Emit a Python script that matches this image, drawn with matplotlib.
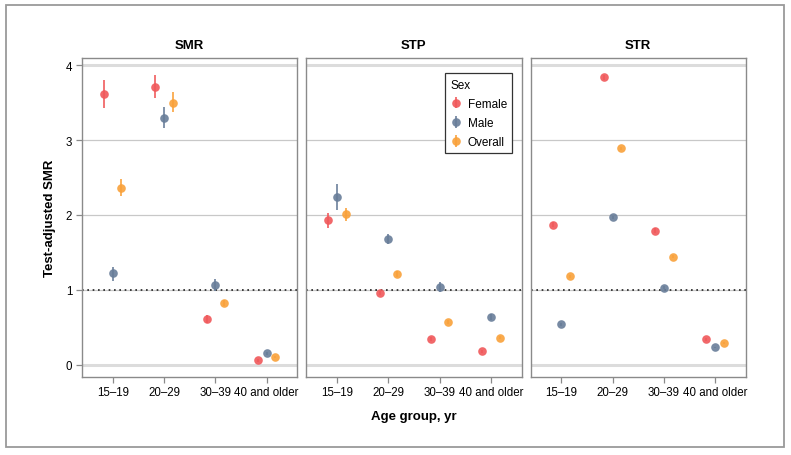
import matplotlib
matplotlib.use("Agg")
import matplotlib.pyplot as plt
from matplotlib.patches import Rectangle

plt.rcParams['font.family'] = ['Liberation Sans', 'DejaVu Sans']

age_groups = ['15\u201319', '20\u201329', '30\u201339', '40 and older']
panels = ['SMR', 'STP', 'STR']
sexes = ['Female', 'Male', 'Overall']
colors = {'Female': '#f0585a', 'Male': '#687d99', 'Overall': '#f9a13a'}

# point estimates per panel and sex (one value per age group)
smr_female = [3.62, 3.71, 0.61, 0.06]
smr_male = [1.22, 3.30, 1.07, 0.15]
smr_overall = [2.36, 3.50, 0.82, 0.10]
stp_female = [1.93, 0.96, 0.34, 0.18]
stp_male = [2.24, 1.68, 1.04, 0.64]
stp_overall = [2.01, 1.21, 0.57, 0.36]
str_female = [1.87, 3.84, 1.79, 0.34]
str_male = [0.54, 1.97, 1.03, 0.23]
str_overall = [1.18, 2.89, 1.44, 0.29]

# 95% CI lower / upper
smr_female_lo = [3.43, 3.56, 0.56, 0.04]
smr_female_hi = [3.81, 3.87, 0.66, 0.08]
smr_male_lo = [1.12, 3.16, 0.99, 0.13]
smr_male_hi = [1.31, 3.44, 1.15, 0.17]
smr_overall_lo = [2.25, 3.37, 0.78, 0.09]
smr_overall_hi = [2.48, 3.64, 0.87, 0.11]
stp_female_lo = [1.83, 0.93, 0.31, 0.16]
stp_female_hi = [2.03, 0.99, 0.37, 0.20]
stp_male_lo = [2.06, 1.61, 0.97, 0.60]
stp_male_hi = [2.42, 1.74, 1.10, 0.68]
stp_overall_lo = [1.92, 1.17, 0.54, 0.34]
stp_overall_hi = [2.09, 1.25, 0.60, 0.38]
str_female_lo = [1.84, 3.81, 1.76, 0.32]
str_female_hi = [1.90, 3.87, 1.82, 0.36]
str_male_lo = [0.52, 1.95, 1.01, 0.22]
str_male_hi = [0.56, 1.99, 1.05, 0.24]
str_overall_lo = [1.16, 2.87, 1.42, 0.28]
str_overall_hi = [1.20, 2.91, 1.46, 0.30]

data = {
    'SMR': {'Female': (smr_female, smr_female_lo, smr_female_hi),
            'Male': (smr_male, smr_male_lo, smr_male_hi),
            'Overall': (smr_overall, smr_overall_lo, smr_overall_hi)},
    'STP': {'Female': (stp_female, stp_female_lo, stp_female_hi),
            'Male': (stp_male, stp_male_lo, stp_male_hi),
            'Overall': (stp_overall, stp_overall_lo, stp_overall_hi)},
    'STR': {'Female': (str_female, str_female_lo, str_female_hi),
            'Male': (str_male, str_male_lo, str_male_hi),
            'Overall': (str_overall, str_overall_lo, str_overall_hi)},
}
offsets = {'Female': -0.17, 'Male': 0.0, 'Overall': 0.17}

fig = plt.figure(figsize=(7.91, 4.56), dpi=100)
gs = fig.add_gridspec(1, 3, left=0.1037, right=0.943, top=0.871, bottom=0.172, wspace=0.042)
frame_col = '#8a8a8a'

for i, name in enumerate(panels):
    ax = fig.add_subplot(gs[0, i])
    for y in [1, 2, 3]:
        ax.axhline(y, color='#c8c8c8', lw=0.9, zorder=0)
    for y in [0, 4]:
        ax.axhline(y, color='#dcdcdc', lw=2.2, zorder=0)
    # reference line at 1
    ax.axhline(1, color='#222222', lw=1.2, ls=(0, (1, 2.2)), zorder=1)
    for sex in sexes:
        vals, lo, hi = data[name][sex]
        xs = [k + offsets[sex] for k in range(len(age_groups))]
        err = [[v - l for v, l in zip(vals, lo)], [h - v for v, h in zip(vals, hi)]]
        ax.errorbar(xs, vals, yerr=err, fmt='o', color=colors[sex], ms=6.2,
                    elinewidth=1.3, capsize=0, alpha=0.9, mew=0, zorder=3, label=sex)
    ax.set_xlim(-0.6, 3.6)
    ax.set_ylim(-0.16, 4.1)
    ax.set_xticks(range(len(age_groups)))
    ax.set_xticklabels(age_groups, fontsize=8)
    ax.set_yticks([0, 1, 2, 3, 4])
    ax.tick_params(axis='both', color=frame_col, length=4, width=0.9, pad=3, labelsize=8.3)
    if i == 0:
        ax.set_ylabel('Test-adjusted SMR', fontsize=9.5, fontweight='bold', labelpad=7)
    else:
        ax.tick_params(axis='y', left=False, labelleft=False)
    for sp in ax.spines.values():
        sp.set_color(frame_col)
        sp.set_linewidth(1.0)
    ax.set_title(name, fontsize=9.5, fontweight='bold', pad=7)
    if name == 'STP':
        handles, labels = ax.get_legend_handles_labels()
        leg = ax.legend(handles, labels, title='Sex', loc='upper right',
                        bbox_to_anchor=(0.985, 0.97), fontsize=8.5, title_fontsize=8.5,
                        fancybox=False, framealpha=1, edgecolor='#333333',
                        handlelength=1.0, handletextpad=0.5, borderpad=0.45,
                        labelspacing=0.6, alignment='left')
        leg.get_frame().set_linewidth(0.9)
        leg.set_zorder(5)

fig.text(0.523, 0.085, 'Age group, yr', ha='center', va='center', fontsize=9.5, fontweight='bold')

fig.patches.append(Rectangle((6 / 791, 1 - 448 / 456), 778 / 791, 442 / 456,
                             transform=fig.transFigure, fill=False,
                             edgecolor='#9a9a9a', lw=1.3))

fig.savefig('out.png', dpi=100)
